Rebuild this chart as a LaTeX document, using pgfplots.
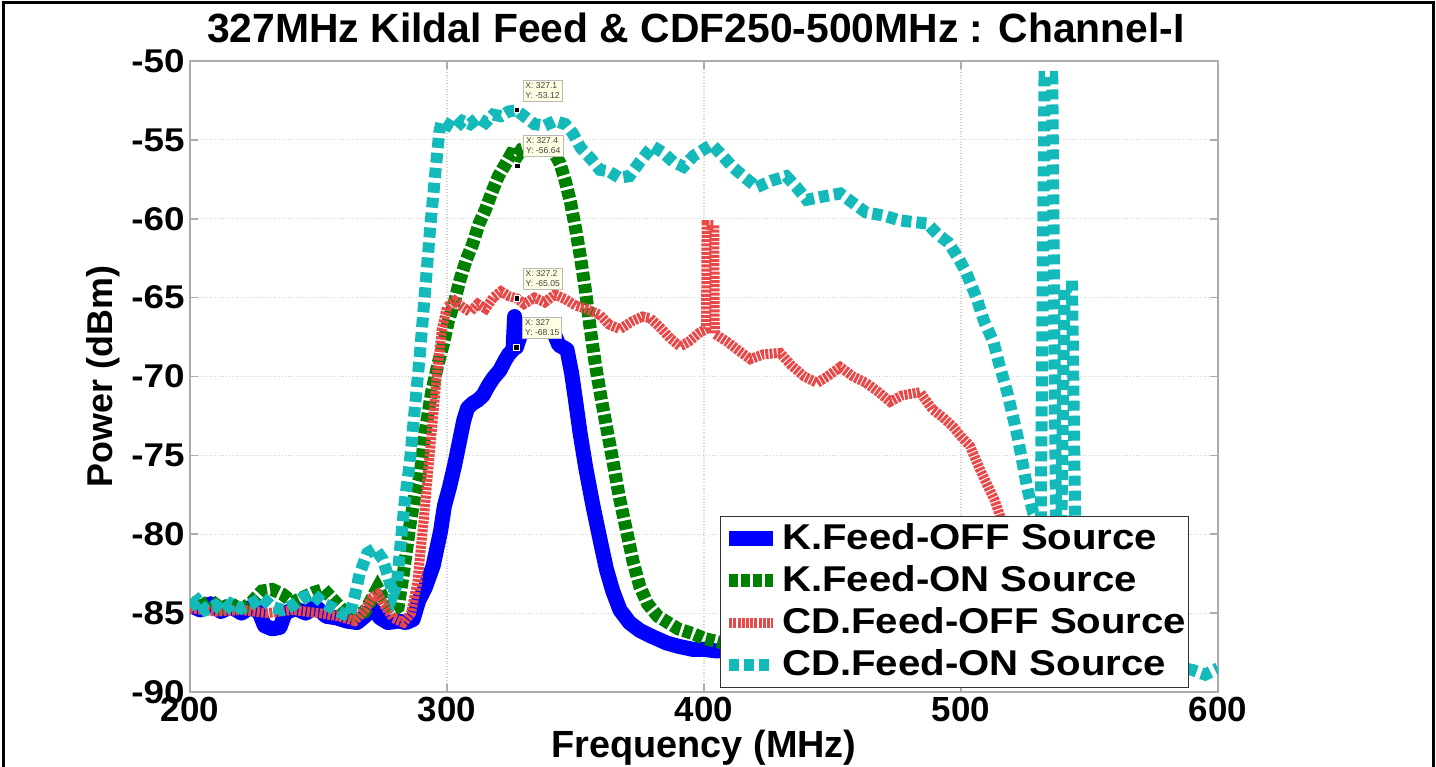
\documentclass[border=0pt]{standalone}
\usepackage{fontspec}
\setmainfont{Liberation Sans}
\newfontfamily\widefont[FakeStretch=1.12]{Liberation Sans}
\usepackage{pgfplots}
\pgfplotsset{compat=1.18}

\definecolor{kblue}{RGB}{0,0,255}
\definecolor{kgreen}{RGB}{0,128,0}
\definecolor{cdred}{RGB}{232,72,72}
\definecolor{cdcyan}{RGB}{20,185,185}
\definecolor{tipbg}{RGB}{255,255,228}

\begin{document}
\begin{tikzpicture}
\path[use as bounding box] (0,0) rectangle (718bp,383.5bp);
\draw[black, line width=1.5bp] (1.5bp,0) -- (1.5bp,382bp) -- (716.5bp,382bp) -- (716.5bp,0);
\begin{axis}[
  at={(95bp,37.5bp)}, anchor=south west,
  width=514bp, height=315.5bp, scale only axis,
  xmin=200, xmax=600, ymin=-90, ymax=-50,
  xtick={200,300,400,500,600}, xticklabels={200,300,400,500,600},
  ytick={-90,-85,-80,-75,-70,-65,-60,-55,-50},
  yticklabels={-90,-85,-80,-75,-70,-65,-60,-55,-50},
  axis line style={gray!65, line width=1bp},
  tick style={gray!65, line width=0.8bp},
  major tick length=4bp,
  grid=major,
  major grid style={gray!35, densely dotted, line width=0.6bp},
  xticklabel style={font=\bfseries\fontsize{17.5}{18}\selectfont, inner sep=0pt, yshift=-2.5bp},
  yticklabel style={font=\widefont\bfseries\fontsize{16.5}{18}\selectfont, inner sep=0pt, xshift=-2.5bp},
  title={327MHz Kildal Feed \& CDF250-500MHz : Channel-I},
  title style={at={(axis description cs:0.5,1)}, anchor=base, inner sep=0pt,
    yshift=3.5bp, xshift=-4bp, font=\bfseries\fontsize{20.5}{22}\selectfont},
  xlabel={Frequency (MHz)},
  xlabel style={at={(axis description cs:0.5,0)}, anchor=base, inner sep=0pt,
    yshift=-32.5bp, font=\bfseries\fontsize{19}{21}\selectfont},
  ylabel={Power (dBm)},
  ylabel style={at={(axis description cs:-0.068,0.5)}, anchor=south, inner sep=0pt,
    font=\bfseries\fontsize{18}{20}\selectfont},
  legend style={at={(0.5156,0.0063)}, anchor=south west, draw=black!80, fill=white,
    line width=0.6bp, font=\widefont\bfseries\fontsize{18}{21}\selectfont,
    inner xsep=0.5bp, inner ysep=2bp, row sep=2.5bp,
    nodes={inner xsep=0.8bp, inner ysep=1bp, text height=13.5bp, text depth=3bp}},
  legend cell align=left,
  legend image code/.code={\draw[#1] (0bp,0bp) -- (22bp,0bp);},
]

% K.Feed, source off
\addplot[kblue, line width=7.5bp, line join=round] coordinates {
(200,-84.5)(204,-84.8)(208,-84.4)(212,-84.9)(216,-84.6)(220,-85.0)(224,-84.6)(227,-85.0)
(229,-85.8)(232,-86.0)(235,-85.9)(237,-85.0)(241,-84.7)(245,-85.0)(249,-84.6)(253,-85.2)
(257,-85.3)(261,-85.5)(265,-85.6)(268,-85.2)(271,-84.7)(274,-85.3)(277,-85.6)(281,-85.5)
(284,-85.6)(286.8,-85.4)(289,-84.2)(291.5,-83.4)(294.6,-82.0)(297.5,-79.8)(299,-78.2)
(301,-77.0)(303,-75.6)(305,-74.0)(306.5,-72.8)(308,-72.0)(310,-71.7)(312,-71.5)(314,-71.2)
(316,-70.6)(318,-70.1)(320.6,-69.6)(322.5,-69.0)(324,-68.6)(325.7,-68.3)(326.3,-66.2)
(327,-68.15)(328.5,-67.4)(330,-66.8)(334,-66.7)(338,-66.8)(341,-67.0)(343.5,-68.0)
(346.7,-68.3)(348.5,-69.8)(350,-71.5)(351.8,-73.6)(354,-75.8)(356.8,-78.2)(359.5,-80.3)
(362,-82.2)(364.5,-83.6)(367.3,-84.8)(371,-85.6)(375,-86.1)(380,-86.5)(385.6,-86.9)
(390,-87.1)(395.7,-87.3)(400,-87.3)(405,-87.4)(410,-87.4)(420,-87.5)(440,-87.6)
(470,-87.6)(500,-87.7)(530,-87.8)(560,-87.8)(585,-87.9)
};
\addlegendentry{K.Feed-OFF Source}

% K.Feed, source on
\addplot[kgreen, line width=6.5bp, dash pattern=on 4.5bp off 1.5bp] coordinates {
(200,-84.3)(204,-84.6)(208,-84.2)(212,-84.7)(216,-84.4)(220,-84.8)(224,-84.3)(228,-83.6)
(232,-83.5)(236,-83.8)(240,-84.3)(244,-84.0)(248,-83.7)(252,-83.5)(256,-84.2)(260,-84.9)
(264,-85.2)(268,-84.9)(271,-84.0)(273,-83.4)(276,-84.3)(279,-84.8)(281,-84.6)(283,-82.5)
(285.5,-79.5)(287.5,-77.5)(289.5,-76.3)(291.5,-73.5)(294,-71.0)(296.5,-69.2)(298.5,-68.0)
(300.5,-66.5)(303,-65.2)(305,-63.9)(307.5,-62.6)(310,-61.6)(312.5,-60.3)(315,-59.4)
(317.5,-58.3)(320,-57.3)(322.5,-56.6)(325,-55.9)(327.4,-56.0)(329,-55.6)
(333,-55.4)(337,-55.3)(341,-55.6)(344,-56.5)(346,-57.6)(348,-58.9)(350,-60.6)(352,-62.5)
(354,-64.7)(355.6,-66.8)(357.7,-69.2)(360,-71.4)(362.3,-73.4)(364.7,-75.5)(367,-77.6)
(370,-79.9)(372.5,-81.8)(375,-83.3)(378,-84.4)(382,-85.2)(386,-85.6)(390,-86.0)
(395.7,-86.3)(400,-86.6)(405,-86.8)(410,-87.0)(430,-87.1)(460,-87.2)(500,-87.3)
(540,-87.4)(585,-87.5)
};
\addlegendentry{K.Feed-ON Source}

% CD feed, source off
\addplot[cdred, line width=5bp, dash pattern=on 1.5bp off 0.6bp] coordinates {
(200,-84.7)(210,-84.9)(220,-84.8)(230,-85.0)(240,-84.8)(250,-85.0)(258,-85.2)(264,-85.5)
(268,-84.8)(271,-84.0)(273,-83.8)(276,-84.6)(279,-85.3)(283,-85.6)(286,-85.0)(288.5,-83.0)
(291,-79.0)(293.5,-74.5)(296,-70.0)(298,-67.0)(300,-65.6)(303,-65.2)(306,-65.6)(309,-65.9)
(312,-65.4)(315,-65.7)(318,-65.0)(321,-64.6)(324,-64.9)(327.2,-65.05)(330,-65.4)(334,-65.0)
(338,-65.3)(342,-64.8)(346,-65.1)(350,-65.5)(354,-65.7)(359.5,-66.1)(363,-66.7)(367.3,-67.0)
(372,-66.5)(376,-66.2)(379,-66.3)(383,-66.9)(387,-67.6)(390.7,-68.1)(394,-67.8)(398.4,-67.2)
(400.8,-67.0)(401,-60.4)(404,-60.4)(404.2,-67.3)(409,-67.8)(413,-68.3)(418,-68.9)(423,-68.6)
(429.6,-68.5)(434,-69.3)(439,-70.0)(444,-70.4)(448,-70.0)(453,-69.4)(458,-70.0)(463,-70.4)
(468,-71.0)(472.4,-71.6)(477,-71.2)(484,-71.0)(489,-72.1)(493,-72.6)(497,-73.2)(500,-73.8)
(503.5,-74.4)(507.4,-75.9)(510,-76.8)(513,-77.8)(516,-79.2)(520,-81.5)(525,-84.5)
(530,-86.3)(540,-87.5)(560,-88.0)(585,-88.0)
};
\addlegendentry{CD.Feed-OFF Source}

% CD feed, source on
\addplot[cdcyan, line width=6bp, dash pattern=on 5bp off 2.5bp] coordinates {
(200,-84.6)(203,-84.2)(206,-84.8)(210,-84.5)(213,-84.9)(216,-84.4)(220,-84.7)(224,-84.4)
(228,-84.0)(232,-84.6)(236,-84.8)(240,-84.5)(244,-84.0)(248,-83.8)(252,-84.4)(256,-84.7)
(259,-85.0)(262,-85.2)(264,-84.0)(266,-82.5)(269,-81.2)(272,-80.9)(275,-81.6)(277,-82.6)
(279,-83.8)(280.5,-83.2)(282,-80.5)(283.5,-78.0)(285.5,-75.5)(287.5,-72.0)(289.5,-68.5)
(291.5,-64.5)(293.5,-60.5)(295.5,-57.0)(297,-54.5)(298,-53.8)(300,-54.0)(303,-54.3)
(306,-53.8)(309,-54.0)(312,-53.6)(315,-53.9)(318,-53.4)(321,-53.5)(324,-53.2)(327.1,-53.12)
(330,-53.5)(334,-54.0)(338,-54.1)(342,-53.8)(346,-54.0)(349,-54.6)(352,-55.5)(356,-56.2)
(359.5,-56.9)(363,-57.0)(367,-57.4)(371,-57.3)(375,-56.4)(380,-55.4)(384,-55.8)(388,-56.4)
(392,-56.7)(396,-56.0)(400,-55.6)(403,-55.3)(406,-55.8)(411,-56.7)(416,-57.4)(420.6,-58.0)
(426,-57.6)(432,-57.3)(436,-58.0)(440,-58.8)(446,-58.6)(453,-58.4)(458,-59.0)(463,-59.6)
(470,-59.8)(476,-60.1)(481,-60.2)(486.8,-60.3)(491,-61.0)(495,-61.5)(499,-62.5)(502,-63.4)
(506,-65.0)(509,-66.5)(512.6,-67.8)(515,-69.3)(518,-71.0)(522,-73.8)(525.7,-77.0)
(528,-78.6)(531,-79.5)(532.5,-51.0)(535.5,-51.0)(537,-79.5)(539,-79.8)(540.3,-64.3)
(543.2,-64.3)(544.5,-80.0)(550,-84.5)(560,-87.0)(570,-88.0)(580,-88.3)(590,-88.6)
(595,-88.9)(600,-88.5)
};
\addlegendentry{CD.Feed-ON Source}

% data cursors at the 327 MHz line
\addplot[only marks, mark=square*, mark size=1.3bp,
  mark options={fill=black, draw=white, line width=0.4bp}, forget plot] coordinates {
(327.1,-53.12)(327.4,-56.64)(327.2,-65.05)(327,-68.15)
};
\tikzset{tip/.style={anchor=south west, xshift=3bp, yshift=4.5bp, fill=tipbg, draw=gray!55,
  line width=0.3bp, inner sep=1.2bp, align=left, text=black!75,
  font=\fontsize{4.3}{5}\selectfont}}
\node[tip] at (axis cs:327.1,-53.12) {X: 327.1\\Y: -53.12};
\node[tip] at (axis cs:327.4,-56.64) {X: 327.4\\Y: -56.64};
\node[tip] at (axis cs:327.2,-65.05) {X: 327.2\\Y: -65.05};
\node[tip] at (axis cs:327,-68.15) {X: 327\\Y: -68.15};
\end{axis}
\end{tikzpicture}
\end{document}
